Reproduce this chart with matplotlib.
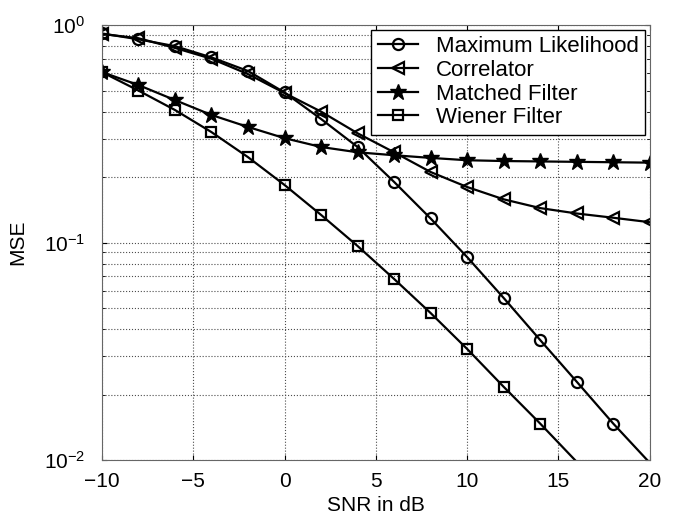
import matplotlib
matplotlib.use("Agg")
import matplotlib.pyplot as plt
import numpy as np

plt.rcParams['font.family'] = ['Liberation Sans', 'DejaVu Sans']

# data
snr = [-10, -8, -6, -4, -2, 0, 2, 4, 6, 8, 10, 12, 14, 16, 18, 20]
mse_ml = [0.915, 0.86, 0.80, 0.71, 0.615, 0.49, 0.37, 0.275, 0.19, 0.129,
          0.0857, 0.0556, 0.0356, 0.0229, 0.0147, 0.0097]
mse_corr = [0.91, 0.87, 0.785, 0.70, 0.595, 0.487, 0.40, 0.318, 0.26, 0.211,
            0.18, 0.158, 0.144, 0.136, 0.13, 0.124]
mse_mf = [0.608, 0.53, 0.452, 0.386, 0.34, 0.302, 0.275, 0.26, 0.252, 0.245,
          0.239, 0.237, 0.236, 0.235, 0.234, 0.233]
mse_wf = [0.608, 0.50, 0.407, 0.322, 0.247, 0.184, 0.134, 0.0964, 0.068, 0.0474,
          0.0324, 0.0217, 0.0147, 0.0098]
snr_wf = snr[:len(mse_wf)]


def visible(vals):
    # markers outside the axis range are not drawn (like in the original)
    return [i for i, v in enumerate(vals) if v >= 1e-2]


fig = plt.figure(figsize=(6.79, 5.19), dpi=100)
ax = fig.add_axes([0.150, 0.1137, 0.807, 0.838])

lw = 1.6
ax.semilogy(snr, mse_ml, 'k-o', lw=lw, ms=8, mfc='none', mew=1.6,
            markevery=visible(mse_ml), label='Maximum Likelihood')
ax.semilogy(snr, mse_corr, 'k-<', lw=lw, ms=9, mfc='none', mew=1.6, label='Correlator')
ax.semilogy(snr, mse_mf, 'k-*', lw=lw, ms=12, mfc='k', mew=1.0, label='Matched Filter')
ax.semilogy(snr_wf, mse_wf, 'k-s', lw=lw, ms=7, mfc='none', mew=1.6,
            markevery=visible(mse_wf), label='Wiener Filter')

ax.set_xlim(-10, 20)
ax.set_ylim(1e-2, 1e0)
ax.set_xticks([-10, -5, 0, 5, 10, 15, 20])
ax.grid(True, which='both', linestyle=':', color='0.3', linewidth=0.8)
ax.tick_params(which='both', direction='in', labelsize=15, top=True, right=True)
ax.tick_params(axis='x', pad=9)
ax.tick_params(axis='y', pad=12)
for s in ax.spines.values():
    s.set_color('0.4')

ax.set_xlabel('SNR in dB', fontsize=15, labelpad=3)
ax.set_ylabel('MSE', fontsize=15, labelpad=12)

leg = ax.legend(loc='upper right', fontsize=16, fancybox=False, framealpha=1,
                edgecolor='k', borderaxespad=0.2, handlelength=1.8,
                handletextpad=0.8, labelspacing=0.12, borderpad=0.3)
leg.get_frame().set_linewidth(1.0)

fig.savefig('out.png', dpi=100)
